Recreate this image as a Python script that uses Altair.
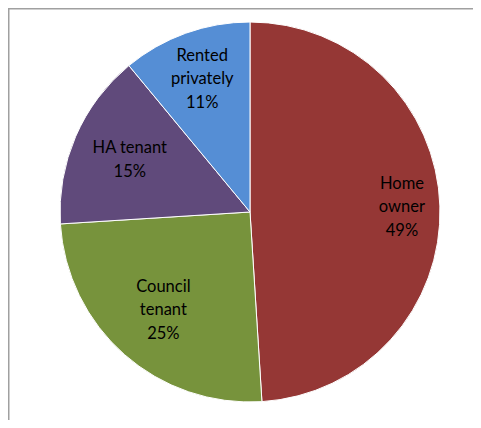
import altair as alt
import pandas as pd

categories = ["Home owner", "Council tenant", "HA tenant", "Rented privately"]
values = [49, 25, 15, 11]
label_lines = ["Home\nowner", "Council\ntenant", "HA tenant", "Rented\nprivately"]
colors = ["#953735", "#77933C", "#604A7B", "#558ED5"]

# layout (not data): label distance from pie centre, per slice
LABEL_RADIUS = {"Home owner": 152, "Council tenant": 131, "HA tenant": 131, "Rented privately": 141}

df = pd.DataFrame({
    "idx": list(range(len(categories))),
    "category": categories,
    "value": values,
    "lines": label_lines,
})
df["label"] = [f"{l}\n{v}%" for l, v in zip(df["lines"], df["value"])]
df["lr"] = [LABEL_RADIUS[c] for c in df["category"]]

W, H = 465, 412
CX, CY = 242, 204
LH = 23.5

arcs = alt.Chart(df).mark_arc(outerRadius=190, stroke="white", strokeWidth=1).encode(
    theta=alt.Theta("value:Q", stack=True),
    order=alt.Order("idx:Q"),
    color=alt.Color("category:N", scale=alt.Scale(domain=categories, range=colors), legend=None),
    x=alt.value(CX),
    y=alt.value(CY),
)

labels = alt.Chart(df).transform_window(
    cum="sum(value)", sort=[alt.SortField("idx")], frame=[None, 0]
).transform_joinaggregate(
    total="sum(value)"
).transform_calculate(
    ang="2*PI*(datum.cum - datum.value/2)/datum.total",
    nl="length(split(datum.label, '\\n'))",
).transform_calculate(
    px=f"{CX} + datum.lr*sin(datum.ang)",
    py=f"{CY} - datum.lr*cos(datum.ang) - (datum.nl - 1)*{LH}/2",
).mark_text(
    font="Lato", fontSize=16.5, lineBreak="\n", lineHeight=LH, color="#000000",
    align="center", baseline="middle",
).encode(
    text="label:N",
    x=alt.X("px:Q", scale=None),
    y=alt.Y("py:Q", scale=None),
)

one = pd.DataFrame({"a": [0]})
frame_left = alt.Chart(one).mark_rule(color="#a0a0a0", strokeWidth=1.5).encode(
    x=alt.value(0.75), y=alt.value(0), y2=alt.value(H)
)
frame_top = alt.Chart(one).mark_rule(color="#a0a0a0", strokeWidth=1.5).encode(
    y=alt.value(0.75), x=alt.value(0), x2=alt.value(W)
)

chart = alt.layer(frame_left, frame_top, arcs, labels).properties(
    width=W, height=H, padding=0, autosize=alt.AutoSizeParams(type="none"),
    background="white",
).configure_view(stroke=None)

chart.save("out.html", embed_options={"renderer": "svg", "actions": False})
